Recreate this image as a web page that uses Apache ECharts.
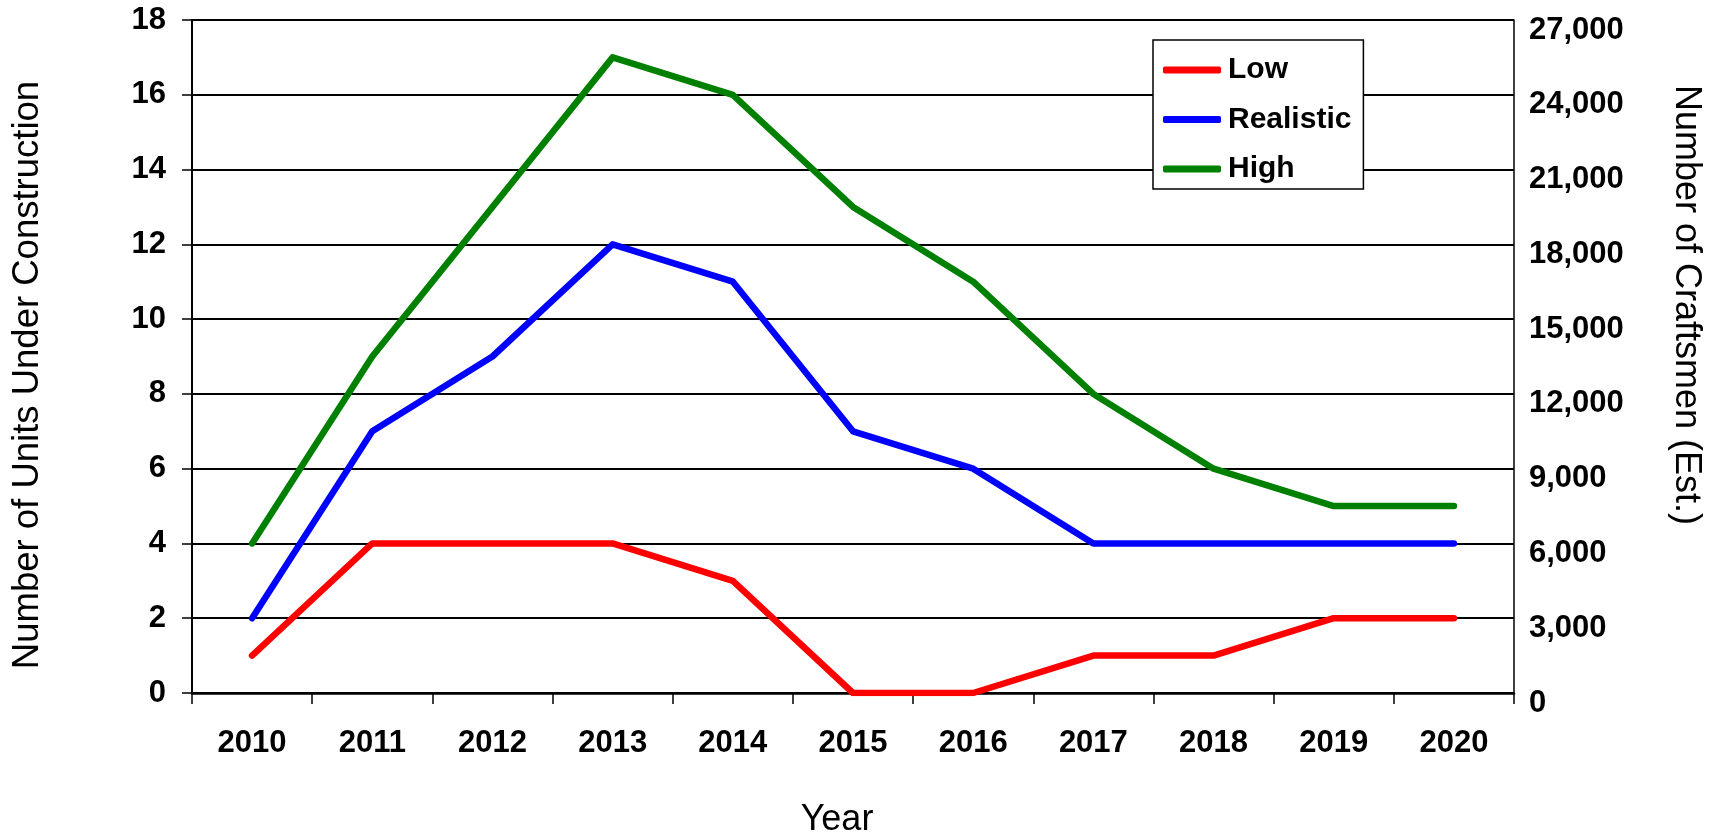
<!DOCTYPE html>
<html>
<head>
<meta charset="utf-8">
<script src="https://cdn.jsdelivr.net/npm/echarts@6/dist/echarts.min.js"></script>
<style>
html,body{margin:0;padding:0;background:#fff;}
#chart{width:1719px;height:834px;}
</style>
</head>
<body>
<div id="chart"></div>
<script>
var years = ['2010','2011','2012','2013','2014','2015','2016','2017','2018','2019','2020'];
var lowValues = [1, 4, 4, 4, 3, 0, 0, 1, 1, 2, 2];
var realisticValues = [2, 7, 9, 12, 11, 7, 6, 4, 4, 4, 4];
var highValues = [4, 9, 13, 17, 16, 13, 11, 8, 6, 5, 5];
var seriesNames = ['Low', 'Realistic', 'High'];
var seriesColors = ['#ff0000', '#0000ff', '#008000'];
var leftTitle = 'Number of Units Under Construction';
var rightTitle = 'Number of Craftsmen (Est.)';
var xTitle = 'Year';

var FONT = 'Liberation Sans, Arial, sans-serif';
var LABEL_SIZE = 31;
var chart = echarts.init(document.getElementById('chart'), null, {renderer: 'canvas'});

function mkSeries(name, data, color) {
  return {
    name: name, type: 'line', data: data, yAxisIndex: 0,
    symbol: 'none', showSymbol: false, smooth: false,
    lineStyle: {color: color, width: 6.5, cap: 'round', join: 'round'},
    itemStyle: {color: color},
    emphasis: {disabled: true},
    animation: false
  };
}

var option = {
  animation: false,
  backgroundColor: '#ffffff',
  grid: {left: 192, right: 205, top: 20, bottom: 141, containLabel: false},
  legend: {
    orient: 'vertical',
    left: 1153, top: 40,
    padding: [15, 12, 5, 10],
    borderColor: '#000', borderWidth: 1.5,
    backgroundColor: '#fff',
    itemWidth: 58, itemHeight: 7, itemGap: 19.5,
    icon: 'roundRect',
    selectedMode: false,
    data: seriesNames,
    textStyle: {fontFamily: FONT, fontWeight: 'bold', fontSize: 30, color: '#000', lineHeight: 30, padding: [0,0,0,2]}
  },
  xAxis: {
    type: 'category', data: years, boundaryGap: true,
    axisLine: {lineStyle: {color: '#000', width: 2.5}},
    axisTick: {show: true, length: 11, lineStyle: {color: '#000', width: 1.5}},
    axisLabel: {fontFamily: FONT, fontWeight: 'bold', fontSize: LABEL_SIZE, color: '#000', margin: 35, interval: 0},
    splitLine: {show: false}
  },
  yAxis: [
    {
      type: 'value', min: 0, max: 18, interval: 2, position: 'left',
      axisLine: {show: true, lineStyle: {color: '#000', width: 2}},
      axisTick: {show: true, length: 10, lineStyle: {color: '#000', width: 1.5}},
      axisLabel: {fontFamily: FONT, fontWeight: 'bold', fontSize: LABEL_SIZE, color: '#000', margin: 26},
      splitLine: {show: true, lineStyle: {color: '#000', width: 2}}
    },
    {
      type: 'value', min: 0, max: 27000, interval: 3000, position: 'right',
      axisLine: {show: true, lineStyle: {color: '#000', width: 1.5}},
      axisTick: {show: false},
      axisLabel: {fontFamily: FONT, fontWeight: 'bold', fontSize: LABEL_SIZE, color: '#000', margin: 15,
        verticalAlign: 'top', lineHeight: 20,
        formatter: function (v) { return String(v).replace(/\B(?=(\d{3})+(?!\d))/g, ','); }},
      splitLine: {show: false}
    }
  ],
  series: [
    mkSeries(seriesNames[0], lowValues, seriesColors[0]),
    mkSeries(seriesNames[1], realisticValues, seriesColors[1]),
    mkSeries(seriesNames[2], highValues, seriesColors[2])
  ],
  graphic: [
    {type: 'text', x: 28, y: 375, rotation: Math.PI / 2,
     style: {text: leftTitle, font: '36.5px ' + FONT, fill: '#000', textAlign: 'center', textVerticalAlign: 'middle'}},
    {type: 'text', x: 1686, y: 305, rotation: -Math.PI / 2,
     style: {text: rightTitle, font: '36px ' + FONT, fill: '#000', textAlign: 'center', textVerticalAlign: 'middle'}},
    {type: 'text', x: 837, y: 820,
     style: {text: xTitle, font: '36px ' + FONT, fill: '#000', textAlign: 'center', textVerticalAlign: 'middle'}}
  ]
};
chart.setOption(option);
</script>
</body>
</html>
